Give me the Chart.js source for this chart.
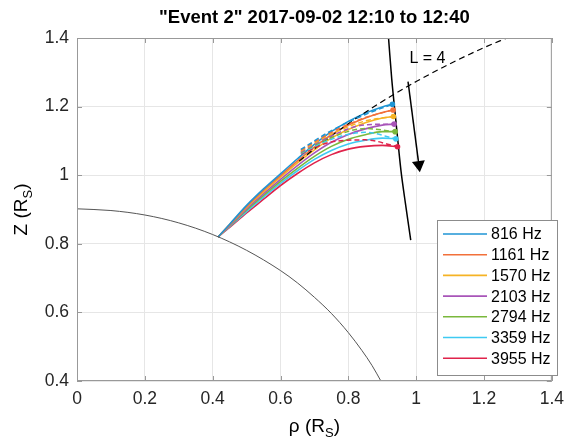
<!DOCTYPE html>
<html>
<head>
<meta charset="utf-8">
<script src="https://cdn.jsdelivr.net/npm/chart.js@4"></script>
<style>
  body { margin: 0; background: #fff; }
  #wrap { width: 572px; height: 444px; }
</style>
</head>
<body>
<div id="wrap"><canvas id="chart" width="572" height="444"></canvas></div>
<script>
// Labels and colours
const titleText = '"Event 2" 2017-09-02 12:10 to 12:40';
const freqLabels = ['816 Hz', '1161 Hz', '1570 Hz', '2103 Hz', '2794 Hz', '3359 Hz', '3955 Hz'];
const freqColors = ['#1f95d4', '#f2703a', '#f5b325', '#a855b8', '#7ab83c', '#3fcaf2', '#e0234b'];
const xTickLabels = ['0', '0.2', '0.4', '0.6', '0.8', '1', '1.2', '1.4'];
const yTickLabels = ['0.4', '0.6', '0.8', '1', '1.2', '1.4'];

// Ray paths (rho, z), one per frequency
const ray816  = [[0.416,0.820],[0.45,0.857],[0.50,0.912],[0.55,0.960],[0.60,1.004],[0.65,1.048],[0.70,1.090],[0.75,1.127],[0.80,1.157],[0.85,1.181],[0.90,1.199],[0.930,1.207]];
const ray1161 = [[0.416,0.820],[0.45,0.856],[0.50,0.909],[0.55,0.956],[0.60,0.999],[0.65,1.042],[0.70,1.082],[0.75,1.118],[0.80,1.146],[0.85,1.167],[0.90,1.183],[0.932,1.190]];
const ray1570 = [[0.416,0.820],[0.45,0.855],[0.50,0.906],[0.55,0.951],[0.60,0.994],[0.65,1.036],[0.70,1.074],[0.75,1.108],[0.80,1.133],[0.85,1.153],[0.90,1.167],[0.933,1.171]];
const ray2103 = [[0.416,0.820],[0.45,0.853],[0.50,0.902],[0.55,0.946],[0.60,0.988],[0.65,1.028],[0.70,1.065],[0.75,1.096],[0.80,1.119],[0.85,1.135],[0.90,1.146],[0.935,1.149]];
const ray2794 = [[0.416,0.820],[0.45,0.852],[0.50,0.898],[0.55,0.941],[0.60,0.982],[0.65,1.020],[0.70,1.055],[0.75,1.084],[0.80,1.105],[0.85,1.118],[0.90,1.127],[0.938,1.127]];
const ray3359 = [[0.416,0.820],[0.45,0.850],[0.50,0.894],[0.55,0.936],[0.60,0.976],[0.65,1.013],[0.70,1.046],[0.75,1.072],[0.80,1.091],[0.85,1.102],[0.90,1.108],[0.940,1.106]];
const ray3955 = [[0.416,0.820],[0.45,0.848],[0.50,0.890],[0.55,0.930],[0.60,0.970],[0.65,1.005],[0.70,1.036],[0.75,1.060],[0.80,1.076],[0.85,1.084],[0.90,1.087],[0.945,1.083]];

// dashed segments near the top of each ray
const dash816  = [[0.66,1.075],[0.75,1.130],[0.85,1.177],[0.930,1.207]];
const dash1161 = [[0.66,1.073],[0.75,1.125],[0.85,1.168],[0.932,1.190]];
const dash1570 = [[0.66,1.070],[0.75,1.120],[0.85,1.158],[0.933,1.171]];
const dash2103 = [[0.66,1.068],[0.75,1.115],[0.85,1.147],[0.935,1.149]];
const dash2794 = [[0.66,1.066],[0.75,1.110],[0.85,1.136],[0.938,1.127]];
const dash3359 = [[0.66,1.064],[0.75,1.105],[0.85,1.125],[0.940,1.106]];
const dash3955 = [[0.66,1.062],[0.75,1.097],[0.85,1.103],[0.945,1.083]];

// L = 4 field line, spacecraft track, arrow, planet limb
const fieldL4 = [[0.655,1.041],[0.70,1.077],[0.80,1.150],[0.90,1.215],[1.00,1.273],[1.10,1.325],[1.20,1.372],[1.27,1.401]];
const trackPath = [[0.917,1.42],[0.928,1.28],[0.940,1.16],[0.955,1.015],[0.968,0.92],[0.984,0.811]];
const arrowPath = [[0.976,1.273],[1.008,1.03]];
const limb = [[0,0.902],[0.1,0.897],[0.2,0.884],[0.3,0.861],[0.4,0.827],[0.5,0.781],[0.6,0.722],[0.65,0.686],[0.7,0.644],[0.75,0.597],[0.8,0.541],[0.84,0.489],[0.87,0.445],[0.896,0.40]];

const rays = [ray816, ray1161, ray1570, ray2103, ray2794, ray3359, ray3955];
const dashes = [dash816, dash1161, dash1570, dash2103, dash2794, dash3359, dash3955];

const pts = arr => arr.map(p => ({ x: p[0], y: p[1] }));

const datasets = [];
datasets.push({ data: pts(limb), borderColor: '#555', borderWidth: 1, pointRadius: 0, showLine: true, cubicInterpolationMode: 'monotone' });
dashes.forEach((d, i) => datasets.push({
  data: pts(d), borderColor: freqColors[i], borderWidth: 1.5, borderDash: [5, 3],
  pointRadius: 0, showLine: true, cubicInterpolationMode: 'monotone'
}));
datasets.push({ data: pts(fieldL4), borderColor: '#000', borderWidth: 1.2, borderDash: [6, 4], pointRadius: 0, showLine: true, cubicInterpolationMode: 'monotone' });
rays.forEach((r, i) => datasets.push({
  label: freqLabels[i], data: pts(r), borderColor: freqColors[i], backgroundColor: freqColors[i],
  borderWidth: 1.6, showLine: true, cubicInterpolationMode: 'monotone',
  pointRadius: r.map((p, j) => j === r.length - 1 ? 2 : 0)
}));
datasets.push({ data: pts(trackPath), borderColor: '#000', borderWidth: 1.5, pointRadius: 0, showLine: true, tension: 0.3 });
datasets.push({
  data: pts(arrowPath), borderColor: '#000', backgroundColor: '#000', borderWidth: 1.5, showLine: true,
  pointStyle: 'triangle', pointRadius: [0, 6], rotation: 172.5
});

const FONT = '"Liberation Sans", Arial, sans-serif';
const AXIS = '#999';

const decor = {
  id: 'decor',
  beforeDraw(chart) {
    const c = chart.ctx;
    c.save();
    c.fillStyle = '#fff';
    c.fillRect(0, 0, chart.width, chart.height);
    c.restore();
  },
  afterDatasetsDraw(chart) {
    const c = chart.ctx, a = chart.chartArea, sx = chart.scales.x, sy = chart.scales.y;
    c.save();
    // box + inner ticks
    c.strokeStyle = AXIS; c.lineWidth = 1;
    c.strokeRect(a.left + 0.5, a.top + 0.5, a.right - a.left - 1, a.bottom - a.top - 1);
    c.beginPath();
    sx.ticks.forEach(t => {
      const px = Math.round(sx.getPixelForValue(t.value)) + 0.5;
      c.moveTo(px, a.bottom); c.lineTo(px, a.bottom - 5);
      c.moveTo(px, a.top); c.lineTo(px, a.top + 5);
    });
    sy.ticks.forEach(t => {
      const py = Math.round(sy.getPixelForValue(t.value)) + 0.5;
      c.moveTo(a.left, py); c.lineTo(a.left + 5, py);
      c.moveTo(a.right, py); c.lineTo(a.right - 5, py);
    });
    c.stroke();

    // L = 4 label
    c.fillStyle = '#000';
    c.font = '16px ' + FONT;
    c.textBaseline = 'middle'; c.textAlign = 'left';
    c.fillText('L = 4', sx.getPixelForValue(0.98), sy.getPixelForValue(1.34));

    // legend
    const lx = 437, ly = 220, lw = 120, lh = 155;
    c.fillStyle = '#fff';
    c.fillRect(lx, ly, lw, lh);
    c.strokeStyle = '#8c8c8c';
    c.strokeRect(lx + 0.5, ly + 0.5, lw, lh);
    freqLabels.forEach((lab, i) => {
      const y = ly + 14 + i * 20.7;
      c.strokeStyle = freqColors[i]; c.lineWidth = 1.6;
      c.beginPath(); c.moveTo(lx + 6, y); c.lineTo(lx + 50, y); c.stroke();
      c.fillStyle = '#000';
      c.font = '16px ' + FONT;
      c.fillText(lab, lx + 54, y + 1);
    });
    c.restore();
  },
  afterDraw(chart) {
    const c = chart.ctx, a = chart.chartArea;
    const cx = (a.left + a.right) / 2, cy = (a.top + a.bottom) / 2;
    c.save();
    c.fillStyle = '#000';
    c.textAlign = 'center'; c.textBaseline = 'middle';
    c.font = 'bold 18.5px ' + FONT;
    c.fillText(titleText, cx, 18);

    // axis label with subscript, drawn left to right from a centre point
    const label = (first, sub, last, x, y, rot) => {
      c.save();
      c.translate(x, y); c.rotate(rot);
      c.textAlign = 'left'; c.textBaseline = 'alphabetic';
      c.font = '19px ' + FONT;
      const w1 = c.measureText(first).width, w3 = c.measureText(last).width;
      c.font = '13px ' + FONT;
      const w2 = c.measureText(sub).width;
      let x0 = -(w1 + w2 + w3) / 2;
      c.font = '19px ' + FONT;
      c.fillText(first, x0, 0);
      c.font = '13px ' + FONT;
      c.fillText(sub, x0 + w1, 5);
      c.font = '19px ' + FONT;
      c.fillText(last, x0 + w1 + w2, 0);
      c.restore();
    };
    label('\u03C1 (R', 'S', ')', cx, 432, 0);
    label('Z (R', 'S', ')', 27, cy, -Math.PI / 2);
    c.restore();
  }
};

new Chart(document.getElementById('chart'), {
  type: 'scatter',
  data: { datasets },
  plugins: [decor],
  options: {
    responsive: false,
    devicePixelRatio: 1,
    animation: false,
    layout: { padding: { left: 0, right: 14, top: 38, bottom: 0 } },
    plugins: { legend: { display: false }, tooltip: { enabled: false } },
    scales: {
      x: {
        type: 'linear', min: 0, max: 1.4,
        afterFit: s => { s.height = 63; },
        grid: { color: '#e6e6e6', drawTicks: false },
        border: { display: false },
        ticks: {
          stepSize: 0.2, padding: 8, maxRotation: 0, autoSkip: false, color: '#262626',
          font: { family: FONT, size: 17.5 },
          callback: (v, i) => xTickLabels[i]
        }
      },
      y: {
        type: 'linear', min: 0.4, max: 1.4,
        afterFit: s => { s.width = 77; },
        grid: { color: '#e6e6e6', drawTicks: false },
        border: { display: false },
        ticks: {
          stepSize: 0.2, padding: 8, color: '#262626',
          font: { family: FONT, size: 17.5 },
          callback: (v, i) => yTickLabels[i]
        }
      }
    }
  }
});
</script>
</body>
</html>
